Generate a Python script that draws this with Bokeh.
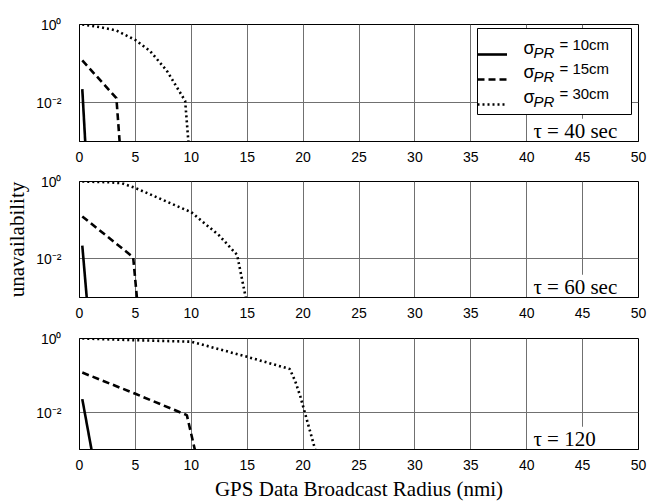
from bokeh.plotting import figure
from bokeh.models import FixedTicker, Legend, LegendItem, Label, Range1d, BoxAnnotation
from bokeh.layouts import column
from bokeh.embed import file_html
from bokeh.resources import INLINE

# ---------------- data ----------------
x_ticks = [0, 5, 10, 15, 20, 25, 30, 35, 40, 45, 50]
y_ticks = [1.0, 0.01]
y_tick_labels = {1.0: "10⁰", 0.01: "10⁻²"}

# tau = 40 sec
p1_10_x = [0.25, 0.52]
p1_10_y = [0.022, 0.0009]
p1_15_x = [0.25, 3.3, 3.6]
p1_15_y = [0.12, 0.013, 0.0009]
p1_30_x = [0.25, 1.9, 3.3, 5.0, 6.3, 7.8, 9.45, 9.75]
p1_30_y = [1.0, 0.85, 0.7, 0.4, 0.21, 0.066, 0.011, 0.0009]

# tau = 60 sec
p2_10_x = [0.25, 0.66]
p2_10_y = [0.022, 0.0009]
p2_15_x = [0.25, 4.8, 5.15]
p2_15_y = [0.125, 0.011, 0.0009]
p2_30_x = [0.25, 2.5, 3.8, 5.0, 10.0, 12.5, 14.1, 14.9]
p2_30_y = [1.0, 0.96, 0.9, 0.68, 0.16, 0.04, 0.0126, 0.0009]

# tau = 120
p3_10_x = [0.25, 1.1]
p3_10_y = [0.023, 0.0009]
p3_15_x = [0.25, 5.0, 9.6, 10.35]
p3_15_y = [0.12, 0.032, 0.0085, 0.0009]
p3_30_x = [0.25, 5.0, 10.0, 15.0, 18.8, 19.3, 19.74, 21.12]
p3_30_y = [1.0, 0.9, 0.82, 0.32, 0.15, 0.07, 0.028, 0.0009]

sigma_labels = ["= 10cm", "= 15cm", "= 30cm"]
tau_labels = ["τ = 40 sec", "τ = 60 sec", "τ = 120"]
tau_x = 40.6
tau_y = 0.00093
x_title = "GPS Data Broadcast Radius (nmi)"
y_title = "unavailability"

SANS = "Liberation Sans"
SERIF = "Liberation Serif"
styles = [dict(line_dash="solid", line_width=2.6),
          dict(line_dash="7 4", line_width=2.6),
          dict(line_dash="2 3", line_width=2.6)]


def make_panel(height, top, bottom, series, tau_text, xlabel=None, ylabel=None):
    p = figure(width=652, height=height, y_axis_type="log",
               x_range=Range1d(0, 50), y_range=Range1d(0.001, 1.0),
               output_backend="svg", toolbar_location=None,
               min_border_left=79, min_border_right=14,
               min_border_top=top, min_border_bottom=bottom)
    p.background_fill_color = "white"
    p.border_fill_color = "white"
    p.outline_line_color = "black"
    p.outline_line_width = 1

    p.xaxis.ticker = FixedTicker(ticks=x_ticks)
    p.yaxis.ticker = FixedTicker(ticks=y_ticks, minor_ticks=[])
    p.yaxis.major_label_overrides = y_tick_labels
    for ax in (p.xaxis[0], p.yaxis[0]):
        ax.axis_line_color = "black"
        ax.major_tick_line_color = None
        ax.minor_tick_line_color = None
        ax.major_label_text_font = SANS
        ax.major_label_text_font_size = "14px"
        ax.major_label_text_color = "black"
        ax.axis_label_text_font = SERIF
        ax.axis_label_text_font_style = "normal"
        ax.axis_label_text_font_size = "21px"
        ax.axis_label_text_color = "black"
    p.xaxis.major_label_standoff = 4
    p.yaxis.major_label_standoff = 12
    p.xaxis.axis_label_standoff = 4
    p.yaxis.axis_label_standoff = 4
    if xlabel:
        p.xaxis.axis_label = xlabel
    if ylabel:
        p.yaxis.axis_label = ylabel

    p.xgrid.ticker = FixedTicker(ticks=x_ticks)
    p.grid.grid_line_color = "#707070"
    p.grid.grid_line_width = 1

    p.add_layout(Label(x=tau_x, y=tau_y, text=tau_text,
                       text_font=SERIF, text_font_size="21px",
                       text_color="black",
                       background_fill_color="white", level="underlay"))

    renderers = []
    for (xs, ys), st in zip(series, styles):
        r = p.line(xs, ys, line_color="black", **st)
        renderers.append(r)
    return p, renderers


p1, r1 = make_panel(164, 24, 22,
                    [(p1_10_x, p1_10_y), (p1_15_x, p1_15_y), (p1_30_x, p1_30_y)],
                    tau_labels[0])
p2, r2 = make_panel(156, 17, 22,
                    [(p2_10_x, p2_10_y), (p2_15_x, p2_15_y), (p2_30_x, p2_30_y)],
                    tau_labels[1], ylabel=y_title)
p3, r3 = make_panel(183, 18, 47,
                    [(p3_10_x, p3_10_y), (p3_15_x, p3_15_y), (p3_30_x, p3_30_y)],
                    tau_labels[2], xlabel=x_title)

# legend: white box, transparent Legend for the line samples, text as labels
p1.add_layout(BoxAnnotation(left=398, right=552, bottom=27, top=113,
                            left_units="screen", right_units="screen",
                            bottom_units="screen", top_units="screen",
                            fill_color="white", fill_alpha=1.0,
                            line_color="black", line_width=1, line_alpha=1.0,
                            level="underlay"))
legend = Legend(items=[LegendItem(label=" ", renderers=[r]) for r in r1],
                location=(398, 27), margin=0, padding=8,
                glyph_width=30, glyph_height=20, label_height=20,
                label_width=100, label_standoff=8, spacing=5,
                border_line_color=None, background_fill_alpha=0.0)
p1.add_layout(legend)

for i, txt in enumerate(sigma_labels):
    dy = 24.5 * i
    p1.add_layout(Label(x=444, y=84 - dy, x_units="screen", y_units="screen",
                        text="σ", text_font=SANS, text_font_size="18px",
                        text_color="black"))
    p1.add_layout(Label(x=454, y=81 - dy, x_units="screen", y_units="screen",
                        text="PR", text_font=SANS, text_font_size="15px",
                        text_font_style="italic", text_color="black"))
    p1.add_layout(Label(x=480, y=89 - dy, x_units="screen", y_units="screen",
                        text=txt, text_font=SANS, text_font_size="15px",
                        text_color="black"))

layout = column(p1, p2, p3, spacing=0)
open("out.html", "w").write(file_html(layout, INLINE))
